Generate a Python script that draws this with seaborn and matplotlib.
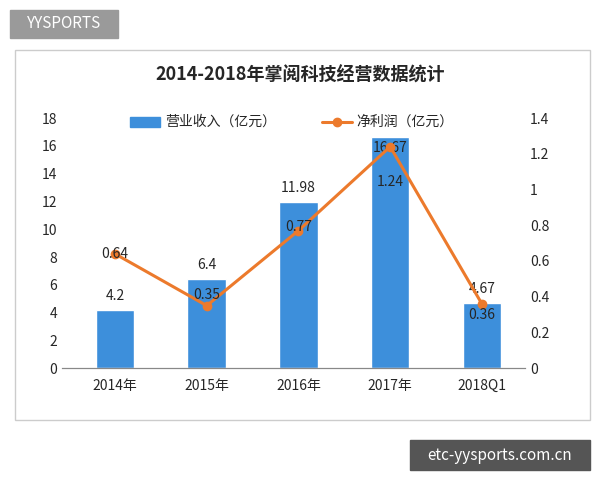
import matplotlib
matplotlib.use("Agg")
import matplotlib.pyplot as plt
import seaborn as sns
import pandas as pd
from matplotlib.patches import Rectangle

sns.set_style("white")
plt.rcParams['font.family'] = ['Noto Sans CJK SC', 'DejaVu Sans']

categories = ["2014年", "2015年", "2016年", "2017年", "2018Q1"]
revenue = [4.2, 6.4, 11.98, 16.67, 4.67]
profit = [0.64, 0.35, 0.77, 1.24, 0.36]
rev_labels = ["4.2", "6.4", "11.98", "16.67", "4.67"]
pro_labels = ["0.64", "0.35", "0.77", "1.24", "0.36"]

df = pd.DataFrame({"cat": categories, "rev": revenue, "pro": profit})

fig = plt.figure(figsize=(6, 4.8), dpi=100)
fig.patches.append(Rectangle((15/600, 1-420/480), 575/600, 370/480, transform=fig.transFigure,
                             fill=False, edgecolor="#cccccc", lw=1))
ax = fig.add_axes([0.103, 0.233, 0.772, 0.521])
sns.barplot(data=df, x="cat", y="rev", color="#3d8fdb", width=0.42, ax=ax, saturation=1)
ax.set_ylim(0, 18)
ax.set_xlim(-0.58, 4.47)
ax.set_yticks(range(0, 19, 2))
ax.set_xlabel(""); ax.set_ylabel("")
for i, (v, t) in enumerate(zip(revenue, rev_labels)):
    if v > 15:
        ax.text(i, v - 0.3, t, ha="center", va="top", fontsize=10)
    else:
        ax.text(i, v + 0.5, t, ha="center", va="bottom", fontsize=10)

ax2 = ax.twinx()
ax2.plot(range(len(categories)), profit, color="#ec7a2c", lw=2.2, marker="o", ms=6)
ax2.set_ylim(0, 1.4)
ax2.set_yticks([0, 0.2, 0.4, 0.6, 0.8, 1, 1.2, 1.4])
ax2.set_yticklabels(["0", "0.2", "0.4", "0.6", "0.8", "1", "1.2", "1.4"])
pro_dy = [0.0, 0.06, 0.02, -0.2, -0.06]
pro_dx = [0.0, 0.0, 0.0, 0.0, 0.0]
for i, (v, t) in enumerate(zip(profit, pro_labels)):
    ax2.text(i + pro_dx[i], v + pro_dy[i], t, ha="center", va="center", fontsize=10)

for a in (ax, ax2):
    for s in ["top", "left", "right"]:
        a.spines[s].set_visible(False)
    a.spines["bottom"].set_color("#888888")
    a.tick_params(labelsize=10, length=0)
ax.tick_params(axis="x", pad=8)

fig.text(0.5, 1-75/480, "2014-2018年掌阅科技经营数据统计", ha="center", va="center",
         fontsize=13, fontweight="bold")
fig.patches.append(Rectangle((130/600, 1-127/480), 30/600, 10/480, transform=fig.transFigure, color="#3d8fdb"))
fig.text(165/600, 1-122/480, "营业收入（亿元）", va="center", fontsize=10)
fig.lines.append(plt.Line2D([322/600, 352/600], [1-122/480]*2, transform=fig.transFigure, color="#ec7a2c", lw=2.2))
fig.lines.append(plt.Line2D([337/600], [1-122/480], transform=fig.transFigure, color="#ec7a2c", marker="o", ms=6))
fig.text(356/600, 1-122/480, "净利润（亿元）", va="center", fontsize=10)

fig.patches.append(Rectangle((10/600, 1-38/480), 108/600, 28/480, transform=fig.transFigure, color="#9a9a9a"))
fig.text(64/600, 1-24/480, "YYSPORTS", ha="center", va="center", color="white", fontsize=11)
fig.patches.append(Rectangle((410/600, 1-470/480), 180/600, 30/480, transform=fig.transFigure, color="#555555"))
fig.text(500/600, 1-455/480, "etc-yysports.com.cn", ha="center", va="center", color="white", fontsize=11)

fig.savefig("out.png", dpi=100)
